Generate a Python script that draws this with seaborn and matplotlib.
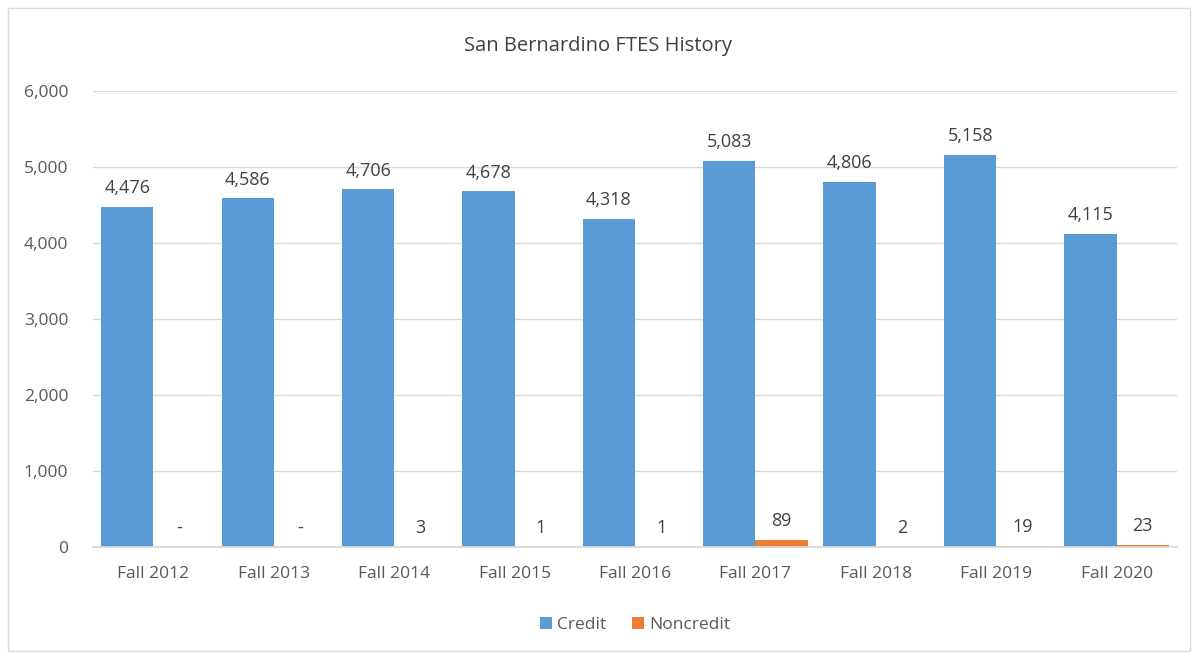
""" Recreate San Bernardino FTES History bar chart """

import pandas as pd
import seaborn as sns
import matplotlib.pyplot as plt
from matplotlib.patches import Rectangle

terms = ["Fall 2012", "Fall 2013", "Fall 2014", "Fall 2015", "Fall 2016",
         "Fall 2017", "Fall 2018", "Fall 2019", "Fall 2020"]
credit = [4476, 4586, 4706, 4678, 4318, 5083, 4806, 5158, 4115]
noncredit = [0, 0, 3, 1, 1, 89, 2, 19, 23]
series = ["Credit", "Noncredit"]
colors = ["#5B9BD5", "#ED7D31"]


def fmt(v):
    return "-" if v == 0 else f"{v:,}"


def plot():
    sns.set_theme(style="white")
    plt.rcParams["font.family"] = ["Open Sans", "DejaVu Sans"]
    df = pd.DataFrame({
        "Term": terms * 2,
        "Series": [series[0]] * len(terms) + [series[1]] * len(terms),
        "FTES": credit + noncredit,
    })

    fig = plt.figure(figsize=(11.96, 6.59), dpi=100)
    ax = fig.add_axes([0.078, 0.170, 0.906, 0.692])
    sns.barplot(data=df, x="Term", y="FTES", hue="Series", palette=colors,
                width=0.87, gap=0, ax=ax, errorbar=None, saturation=1,
                linewidth=0)

    # data labels
    for cont, vals in zip(ax.containers, [credit, noncredit]):
        ax.bar_label(cont, labels=[fmt(v) for v in vals], padding=7,
                     fontsize=13, color="#404040")

    ax.set_ylim(0, 6000)
    ax.set_yticks(range(0, 6001, 1000))
    ax.yaxis.set_major_formatter(plt.FuncFormatter(lambda v, p: f"{int(v):,}"))
    ax.grid(axis="y", color="#d9d9d9", linewidth=1)
    ax.set_axisbelow(True)
    for s in ["top", "right", "left"]:
        ax.spines[s].set_visible(False)
    ax.spines["bottom"].set_color("#d9d9d9")
    ax.tick_params(axis="both", length=0, labelsize=12.5, labelcolor="#595959")
    ax.tick_params(axis="x", pad=14)
    ax.tick_params(axis="y", pad=18)
    ax.set_xlabel("")
    ax.set_ylabel("")

    fig.suptitle("San Bernardino FTES History", y=0.945, fontsize=14.5, color="#404040")
    ax.legend(loc="upper center", bbox_to_anchor=(0.5, -0.12), ncol=2, frameon=False,
              fontsize=12.5, labelcolor="#595959", handlelength=0.7, handleheight=0.7,
              handletextpad=0.3, columnspacing=1.5)

    fig.patches.append(Rectangle((0.007, 0.012), 0.988, 0.976, transform=fig.transFigure,
                                 fill=False, edgecolor="#d9d9d9", linewidth=1))
    fig.savefig("out.png", dpi=100)


if __name__ == "__main__":
    plot()
